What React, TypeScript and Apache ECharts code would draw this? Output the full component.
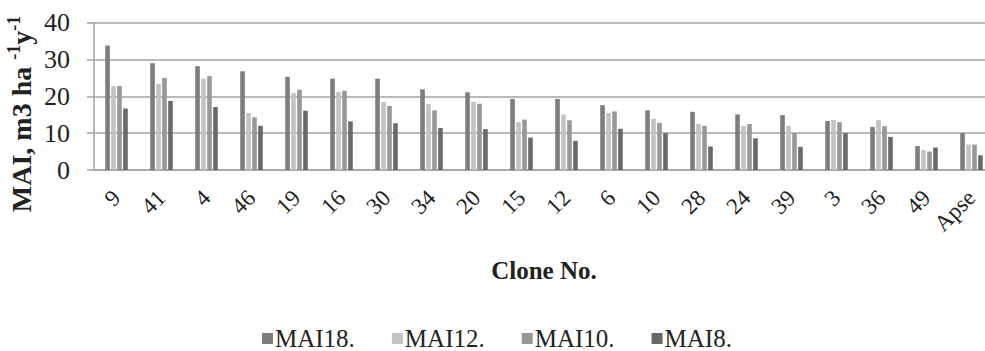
import React, { useEffect, useRef } from "react";
import * as echarts from "echarts";

const categories = ["9", "41", "4", "46", "19", "16", "30", "34", "20", "15", "12", "6", "10", "28", "24", "39", "3", "36", "49", "Apse"];
const mai18 = [33.8, 29.0, 28.2, 26.8, 25.3, 24.8, 24.8, 21.9, 21.1, 19.3, 19.3, 17.6, 16.2, 15.8, 15.1, 14.9, 13.3, 11.7, 6.5, 10.0];
const mai12 = [22.8, 23.4, 24.8, 15.5, 20.9, 21.2, 18.5, 17.9, 18.5, 13.0, 15.0, 15.5, 13.9, 12.5, 12.0, 12.0, 13.6, 13.6, 5.4, 6.9];
const mai10 = [22.8, 25.0, 25.5, 14.3, 21.8, 21.5, 17.4, 16.2, 18.0, 13.7, 13.5, 15.9, 12.8, 12.0, 12.5, 10.0, 13.0, 11.9, 5.0, 6.9];
const mai8 = [16.7, 18.75, 17.1, 12.0, 16.1, 13.2, 12.7, 11.4, 11.1, 8.8, 7.9, 11.2, 10.0, 6.4, 8.6, 6.3, 10.0, 9.0, 6.1, 4.0];
const seriesNames = ["MAI18.", "MAI12.", "MAI10.", "MAI8."];
const seriesColors = ["#7d7d7d", "#c3c3c3", "#989898", "#696969"];
const yTicks = { min: 0, max: 40, interval: 10 };
const yTitle = "{b|MAI, m3 ha }{s|-1}{b|y}{s|-1}";
const xTitle = "Clone No.";

const FONT = "Liberation Serif";

export default function App() {
  const ref = useRef<HTMLDivElement>(null);
  useEffect(() => {
    if (!ref.current) return;
    const chart = echarts.init(ref.current, undefined, { renderer: "svg" });
    const data = [mai18, mai12, mai10, mai8];
    chart.setOption({
      animation: false,
      backgroundColor: "#ffffff",
      textStyle: { fontFamily: FONT },
      grid: { left: 94, width: 900, top: 22.7, bottom: 181, containLabel: false, outerBoundsMode: "none" },
      legend: {
        data: seriesNames,
        left: 262,
        top: 326,
        padding: 0,
        icon: "rect",
        itemWidth: 11,
        itemHeight: 11,
        itemGap: 37,
        textStyle: { fontFamily: FONT, fontSize: 25, lineHeight: 24, color: "#222", padding: [0, 0, 0, -3] },
      },
      graphic: [
        {
          type: "text",
          x: 20,
          y: 114,
          rotation: Math.PI / 2,
          style: {
            text: yTitle,
            align: "center",
            verticalAlign: "middle",
            rich: {
              b: { fontFamily: FONT, fontSize: 28, fontWeight: "bold", fill: "#222", verticalAlign: "bottom", lineHeight: 30 },
              s: { fontFamily: FONT, fontSize: 18, fontWeight: "bold", fill: "#222", verticalAlign: "top", lineHeight: 30, padding: [0, 0, 14, 0] },
            },
          },
        },
      ],
      xAxis: {
        type: "category",
        data: categories,
        name: xTitle,
        nameLocation: "middle",
        nameGap: 88,
        nameTextStyle: { fontFamily: FONT, fontSize: 25, fontWeight: "bold", color: "#222" },
        axisLine: { lineStyle: { color: "#a3a3a3", width: 1.5 } },
        axisTick: { show: false },
        axisLabel: {
          rotate: 45,
          margin: 24,
          fontFamily: FONT,
          fontSize: 23,
          color: "#222",
          interval: 0,
        },
      },
      yAxis: {
        type: "value",
        min: yTicks.min,
        max: yTicks.max,
        interval: yTicks.interval,
        axisLine: { show: true, lineStyle: { color: "#a3a3a3", width: 1.5 } },
        axisTick: { show: true, length: 7, lineStyle: { color: "#a3a3a3", width: 1.5 } },
        axisLabel: { fontFamily: FONT, fontSize: 26, color: "#222", margin: 24 },
        splitLine: { show: true, lineStyle: { color: "#a3a3a3", width: 1.5 } },
      },
      series: seriesNames.map((name, i) => ({
        name,
        type: "bar",
        data: data[i],
        barWidth: 4.6,
        barGap: "30%",
        itemStyle: { color: seriesColors[i] },
      })),
    });
    return () => chart.dispose();
  }, []);
  return <div ref={ref} style={{ width: 985, height: 351, position: "absolute", left: 0, top: 0 }} />;
}
